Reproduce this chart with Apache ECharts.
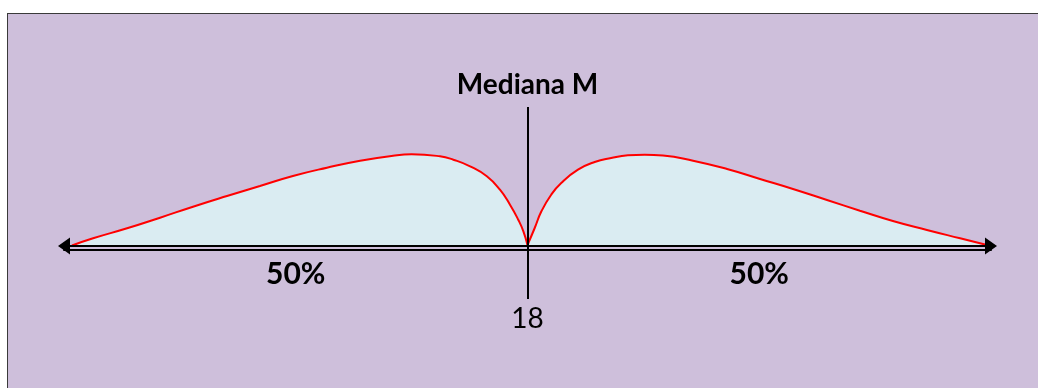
<!DOCTYPE html>
<html>
<head>
<meta charset="utf-8">
<script src="https://cdn.jsdelivr.net/npm/echarts@6/dist/echarts.min.js"></script>
<style>
  html, body { margin:0; padding:0; background:#ffffff; overflow:hidden; }
  #frame { position:absolute; left:7px; top:13px; width:1060px; height:420px; background:#CEBFDB; border:1.5px solid #3a3a3a; }
  #chart { position:absolute; left:0; top:0; width:1038px; height:388px; }
</style>
</head>
<body>
<div id="frame"></div>
<div id="chart"></div>
<script>
// ---- data ----
const xRange = [0, 36];
const medianValue = 18;
const medianLabel = 'Mediana M';
const halfPositions = [9, 27];
const halfLabels = ['50%', '50%'];
const leftCurve = [
  [0.31, 0.5], [1.13, 7.7], [2.45, 17.7], [3.73, 28.3], [5.01, 39.3], [6.33, 50],
  [7.61, 60], [8.89, 70], [10.21, 78.3], [11.5, 85.3], [12.78, 90.3], [13.5, 91.7],
  [14.6, 89.7], [15.12, 86.3], [15.77, 79.7], [16.42, 69.7], [16.93, 56.3],
  [17.32, 41.3], [17.64, 26.3], [17.84, 14.7], [18, 1]
];
const rightCurve = [
  [18, 1], [18.28, 18], [18.54, 34.7], [18.92, 51.3], [19.31, 63], [19.96, 76.3],
  [20.61, 84], [21.25, 88], [21.9, 90.7], [22.55, 91.3], [23.26, 90.5], [24.43, 85.3],
  [25.75, 77], [27.03, 67], [28.31, 57], [29.63, 46], [30.91, 35.3], [32.19, 25],
  [33.51, 16], [34.8, 7.7], [35.96, 0.3]
];
const yRange = [-53, 139];

// ---- chart ----
const chart = echarts.init(document.getElementById('chart'), null, { renderer: 'canvas' });
const FONT = 'Lato';
const curveSeries = (data, extra) => Object.assign({
  type: 'line',
  data: data,
  smooth: 0.5,
  showSymbol: false,
  symbol: 'none',
  silent: true,
  lineStyle: { color: '#FF0000', width: 2 },
  areaStyle: { color: '#DAECF2', opacity: 1, origin: 0 },
  z: 2
}, extra || {});

chart.setOption({
  animation: false,
  backgroundColor: 'transparent',
  grid: { left: 64, right: 47, top: 107, bottom: 89, outerBoundsMode: 'none', containLabel: false },
  xAxis: [
    {
      type: 'value', min: xRange[0], max: xRange[1], position: 'bottom', offset: -53, z: 5,
      axisLine: { show: true, onZero: false, symbol: ['triangle', 'triangle'], symbolSize: [17, 12],
        lineStyle: { color: '#000', width: 2 } },
      axisTick: { show: false },
      splitLine: { show: false },
      axisLabel: {
        customValues: halfPositions,
        formatter: v => halfLabels[halfPositions.indexOf(v)],
        fontFamily: FONT, fontWeight: 'bold', fontSize: 30, color: '#000', margin: 13
      }
    },
    {
      type: 'value', min: xRange[0], max: xRange[1], position: 'bottom', offset: -49, z: 5,
      axisLine: { show: true, onZero: false, lineStyle: { color: '#000', width: 2 } },
      axisTick: { show: false },
      splitLine: { show: false },
      axisLabel: {
        customValues: [medianValue],
        formatter: v => String(v),
        fontFamily: FONT, fontSize: 28, color: '#000', margin: 55
      }
    }
  ],
  yAxis: { type: 'value', min: yRange[0], max: yRange[1], show: false },
  series: [
    curveSeries(leftCurve),
    curveSeries(rightCurve, {
      markLine: {
        silent: true,
        symbol: ['none', 'none'],
        animation: false,
        lineStyle: { color: '#000', width: 2, type: 'solid' },
        label: { show: true, position: 'end', formatter: medianLabel, distance: 8,
          fontFamily: FONT, fontWeight: 'bold', fontSize: 28, color: '#000' },
        data: [{ xAxis: medianValue }]
      }
    })
  ]
});
</script>
</body>
</html>
